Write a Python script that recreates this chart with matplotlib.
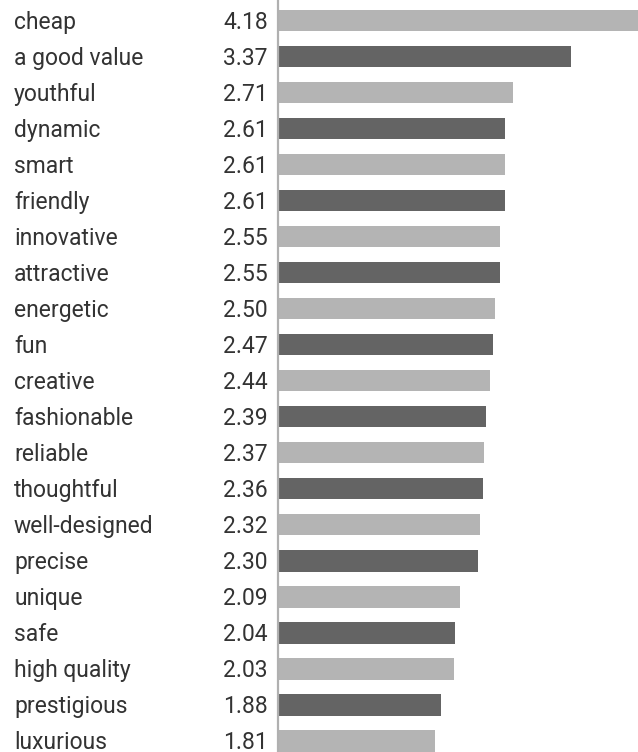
import matplotlib.pyplot as plt
import matplotlib.transforms as mtransforms

labels = ['cheap', 'a good value', 'youthful', 'dynamic', 'smart', 'friendly',
          'innovative', 'attractive', 'energetic', 'fun', 'creative',
          'fashionable', 'reliable', 'thoughtful', 'well-designed', 'precise',
          'unique', 'safe', 'high quality', 'prestigious', 'luxurious']
values = [4.18, 3.37, 2.71, 2.61, 2.61, 2.61, 2.55, 2.55, 2.50, 2.47, 2.44,
          2.39, 2.37, 2.36, 2.32, 2.30, 2.09, 2.04, 2.03, 1.88, 1.81]

light = '#b4b4b4'
dark = '#646464'

W, H = 638, 752
fig = plt.figure(figsize=(W / 100, H / 100), dpi=100, facecolor='white')
ax = fig.add_axes([278 / W, 0, 1 - 278 / W, 1])

ypos = list(range(len(labels)))
colors = [light if i % 2 == 0 else dark for i in ypos]
ax.barh(ypos, values, height=0.59, color=colors, left=0)

pitch = (741 - 20.5) / 20
ax.set_ylim(20 + (H - 741) / pitch, -20.5 / pitch)
ax.set_xlim(0, (W - 278) / 86.9)

for s in ['top', 'right', 'bottom']:
    ax.spines[s].set_visible(False)
ax.spines['left'].set_color('#b0b0b0')
ax.spines['left'].set_linewidth(1.6)
ax.set_xticks([])
ax.set_yticks([])

# text baselines sit a bit below bar centres
trans = mtransforms.blended_transform_factory(fig.transFigure, ax.transData)
for i, (lab, v) in enumerate(zip(labels, values)):
    ax.text(14 / W, i + 0.23, lab, transform=trans, ha='left', va='baseline',
            fontsize=16.5, family='Roboto', color='#333333')
    ax.text(268 / W, i + 0.23, '%.2f' % v, transform=trans, ha='right',
            va='baseline', fontsize=16.5, family='Roboto', color='#333333')

fig.savefig('out.png', dpi=100)
